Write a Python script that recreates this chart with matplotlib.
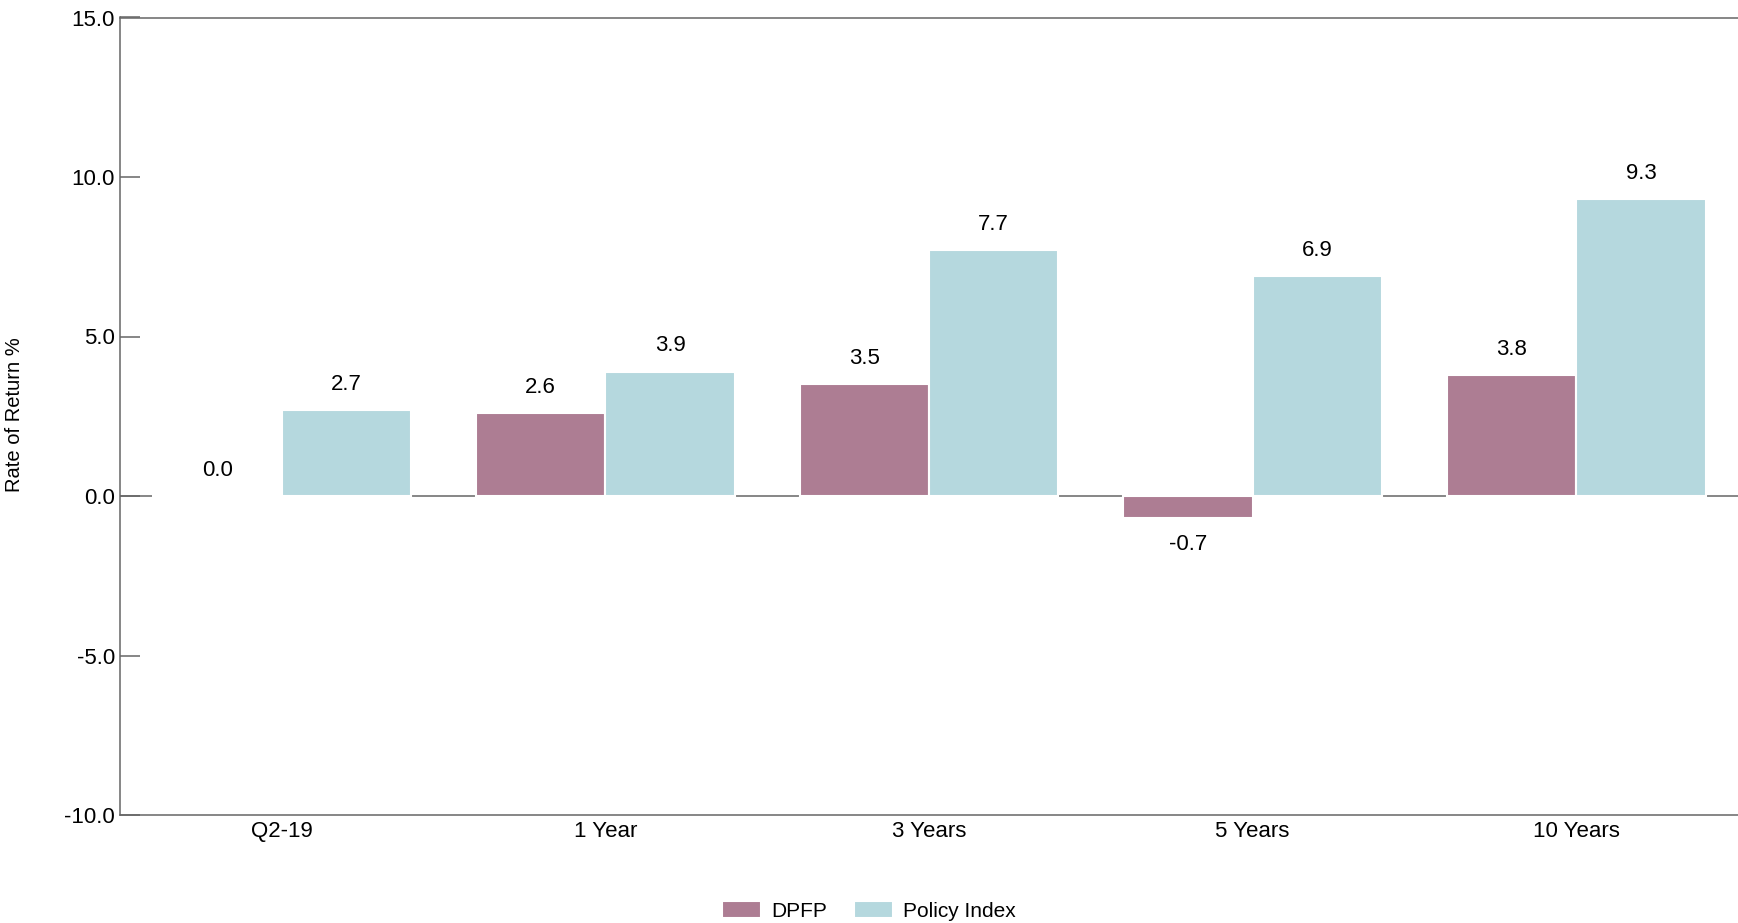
import matplotlib
matplotlib.use("Agg")
import matplotlib.pyplot as plt
import numpy as np

categories = ["Q2-19", "1 Year", "3 Years", "5 Years", "10 Years"]
dpfp = [0.0, 2.6, 3.5, -0.7, 3.8]
policy = [2.7, 3.9, 7.7, 6.9, 9.3]
series_names = ["DPFP", "Policy Index"]
yticks = [-10.0, -5.0, 0.0, 5.0, 10.0, 15.0]

plt.rcParams['font.family'] = ['Liberation Sans', 'DejaVu Sans']

c_dpfp = "#AD7D93"
c_policy = "#B5D8DE"
gray = "#666666"

fig = plt.figure(figsize=(17.38, 9.23), dpi=100)
ax = fig.add_axes([120/1738, 108/923, 1 - 120/1738, (815-17.5)/923])

x = np.arange(len(categories))
w = 0.4
ax.axhline(0, color=gray, lw=1.1, zorder=1)
b1 = ax.bar(x - 0.2, dpfp, w, color=c_dpfp, edgecolor="white", linewidth=1.5, zorder=2, label=series_names[0])
b2 = ax.bar(x + 0.2, policy, w, color=c_policy, edgecolor="white", linewidth=1.5, zorder=2, label=series_names[1])

for bars, vals in ((b1, dpfp), (b2, policy)):
    for rect, v in zip(bars, vals):
        cx = rect.get_x() + rect.get_width() / 2
        if v < 0:
            ax.annotate(f"{v:.1f}", (cx, v), xytext=(0, -11), textcoords="offset points",
                        ha="center", va="top", fontsize=16)
        else:
            ax.annotate(f"{v:.1f}", (cx, v), xytext=(0, 11), textcoords="offset points",
                        ha="center", va="bottom", fontsize=16)

ax.set_xlim(-0.5, 4.5)
ax.set_ylim(-10, 15)
ax.set_yticks(yticks)
ax.set_yticklabels([f"{t:.1f}" for t in yticks])
ax.set_xticks(x)
ax.set_xticklabels(categories)
ax.tick_params(axis="y", direction="in", length=14.4, width=1.1, color=gray, labelsize=16, pad=3.6)
ax.tick_params(axis="x", length=0, labelsize=16, pad=4.5)

for s in ["top", "left", "bottom"]:
    ax.spines[s].set_color(gray)
    ax.spines[s].set_linewidth(1.1)
ax.spines["right"].set_visible(False)

fig.text(15/1738, 1 - 415/923, "Rate of Return %", rotation=90, ha="center", va="center", fontsize=14.5)

fig.legend(handles=[b1, b2], labels=series_names, loc="center", bbox_to_anchor=(0.5, 12/923),
           ncol=2, frameon=False, fontsize=15, handlelength=1.87, handleheight=0.9,
           handletextpad=0.48, columnspacing=1.3)

fig.savefig("out.png", dpi=100)
